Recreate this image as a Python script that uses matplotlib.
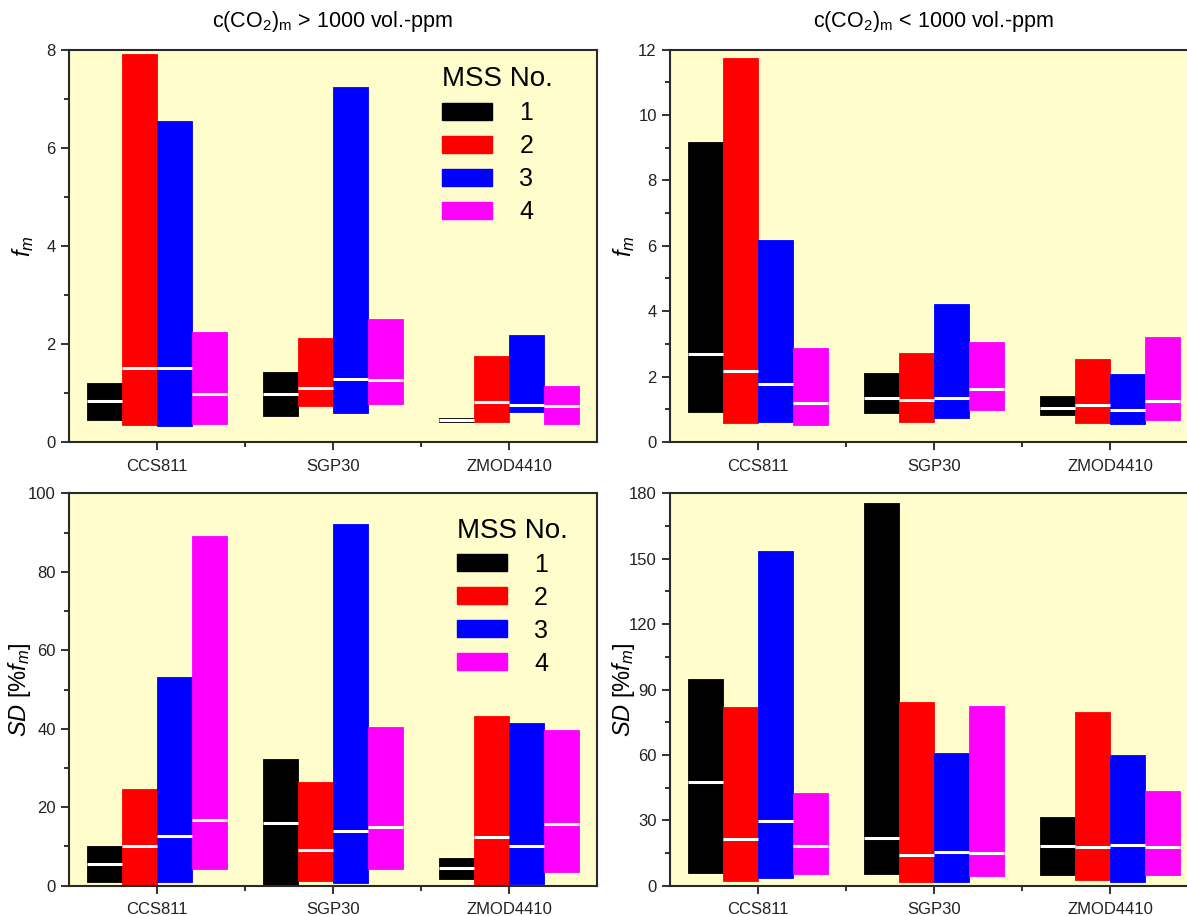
import numpy as np
import matplotlib.pyplot as plt
from matplotlib.patches import Patch
from matplotlib.ticker import MultipleLocator, FixedLocator

plt.rcParams['font.family'] = ['Liberation Sans', 'DejaVu Sans']
plt.rcParams['mathtext.fontset'] = 'custom'
plt.rcParams['mathtext.rm'] = 'Liberation Sans'
plt.rcParams['mathtext.it'] = 'Liberation Sans:italic'

sensors = ['CCS811', 'SGP30', 'ZMOD4410']
mss = ['1', '2', '3', '4']
colors = ['#000000', '#FF0000', '#0000FF', '#FF00FF']

# rows = MSS No. 1..4, columns = sensors (min, max, median line)
# f_m, c(CO2)m > 1000 vol.-ppm
fm_hi_min = [[0.45, 0.54, 0.40], [0.35, 0.73, 0.40], [0.33, 0.59, 0.62], [0.37, 0.77, 0.37]]
fm_hi_max = [[1.21, 1.42, 0.48], [7.90, 2.12, 1.75], [6.55, 7.23, 2.18], [2.25, 2.51, 1.15]]
fm_hi_med = [[0.84, 0.98, 0.44], [1.51, 1.11, 0.81], [1.51, 1.29, 0.76], [0.98, 1.26, 0.73]]

# f_m, c(CO2)m < 1000 vol.-ppm
fm_lo_min = [[0.91, 0.89, 0.83], [0.58, 0.61, 0.58], [0.60, 0.73, 0.55], [0.53, 0.98, 0.67]]
fm_lo_max = [[9.18, 2.11, 1.41], [11.75, 2.73, 2.54], [6.18, 4.22, 2.09], [2.86, 3.07, 3.20]]
fm_lo_med = [[2.68, 1.33, 1.03], [2.16, 1.28, 1.14], [1.77, 1.33, 0.99], [1.18, 1.63, 1.25]]

# SD [% f_m], c(CO2)m > 1000 vol.-ppm
sd_hi_min = [[1.0, 0.0, 1.7], [0.0, 1.2, 0.0], [1.0, 0.6, 0.4], [4.2, 4.3, 3.4]]
sd_hi_max = [[10.2, 32.2, 7.1], [24.6, 26.4, 43.2], [53.2, 92.2, 41.5], [89.0, 40.4, 39.8]]
sd_hi_med = [[5.6, 16.1, 4.5], [10.2, 9.0, 12.3], [12.6, 13.9, 10.2], [16.7, 15.0, 15.6]]

# SD [% f_m], c(CO2)m < 1000 vol.-ppm
sd_lo_min = [[5.7, 5.2, 4.7], [2.3, 1.7, 2.4], [3.7, 1.8, 1.5], [5.4, 4.4, 4.7]]
sd_lo_max = [[94.7, 175.7, 31.7], [81.8, 84.1, 79.8], [153.5, 60.7, 59.8], [42.5, 82.3, 43.6]]
sd_lo_med = [[47.6, 22.0, 18.4], [21.6, 14.1, 17.9], [29.8, 15.6, 18.5], [18.2, 15.1, 17.9]]

W, H = 1187, 916
fig = plt.figure(figsize=(W / 100, H / 100), dpi=100)

def px_axes(l, t, r, b):
    return fig.add_axes([l / W, 1 - b / H, (r - l) / W, (b - t) / H])

ax_tl = px_axes(69, 49.5, 597, 442)
ax_tr = px_axes(670, 49.5, 1198, 442)
ax_bl = px_axes(69, 493.3, 597, 885.7)
ax_br = px_axes(670, 493.3, 1198, 885.7)

x = np.arange(1, len(sensors) + 1)
offsets = [-0.3, -0.1, 0.1, 0.3]
bw = 0.2


def draw(ax, lo, hi, med, ymax, major, ylabel, labx):
    ax.set_facecolor('#FEFDCB')
    for i, c in enumerate(colors):
        xs = x + offsets[i]
        lo_i = np.array(lo[i])
        hi_i = np.array(hi[i])
        ax.bar(xs, hi_i - lo_i, bottom=lo_i, width=bw, color=c,
               edgecolor=c, linewidth=0.6, zorder=2)
        ax.hlines(med[i], xs - bw / 2, xs + bw / 2, colors='white',
                  linewidth=2.2, zorder=3)
    ax.set_xlim(0.5, 3.5)
    ax.set_ylim(0, ymax)
    ax.set_xticks(x)
    ax.set_xticklabels(sensors, fontsize=10.5)
    ax.xaxis.set_minor_locator(FixedLocator([1.5, 2.5]))
    ax.yaxis.set_major_locator(MultipleLocator(major))
    ax.yaxis.set_minor_locator(MultipleLocator(major / 2))
    ax.tick_params(which='major', direction='out', length=6, width=1.3,
                   labelsize=12, colors='#222222')
    ax.tick_params(which='minor', direction='out', length=3.5, width=1.3,
                   colors='#222222')
    ax.tick_params(axis='x', pad=6)
    for s in ax.spines.values():
        s.set_linewidth(1.5)
        s.set_color('#2a2a2a')
    ax.set_ylabel(ylabel, fontsize=17)
    ax.yaxis.set_label_coords(labx, 0.5)


draw(ax_tl, fm_hi_min, fm_hi_max, fm_hi_med, 8, 2, r'$f_m$', -0.062)
draw(ax_tr, fm_lo_min, fm_lo_max, fm_lo_med, 12, 2, r'$f_m$', -0.062)
draw(ax_bl, sd_hi_min, sd_hi_max, sd_hi_med, 100, 20, r'$SD$ [%$f_m$]', -0.068)
draw(ax_br, sd_lo_min, sd_lo_max, sd_lo_med, 180, 30, r'$SD$ [%$f_m$]', -0.062)

handles = [Patch(facecolor=c, edgecolor=c) for c in colors]
for ax, anchor in [(ax_tl, (0.706, 0.958)), (ax_bl, (0.734, 0.938))]:
    ax.legend(handles, mss, title='MSS No.', loc='upper left',
              bbox_to_anchor=anchor, frameon=False, fontsize=18,
              title_fontsize=20, handlelength=2.0, handleheight=0.68,
              handletextpad=1.1, labelspacing=0.36, borderpad=0,
              borderaxespad=0, alignment='left')

title_font = ['Liberation Sans Narrow', 'Liberation Sans', 'DejaVu Sans']
fig.text(333 / W, 1 - 22 / H, r'c(CO$_2$)$_\mathrm{m}$ > 1000 vol.-ppm',
         ha='center', va='center', fontsize=15.5, family=title_font)
fig.text(934 / W, 1 - 22 / H, r'c(CO$_2$)$_\mathrm{m}$ < 1000 vol.-ppm',
         ha='center', va='center', fontsize=15.5, family=title_font)

fig.savefig('out.png', dpi=100)
